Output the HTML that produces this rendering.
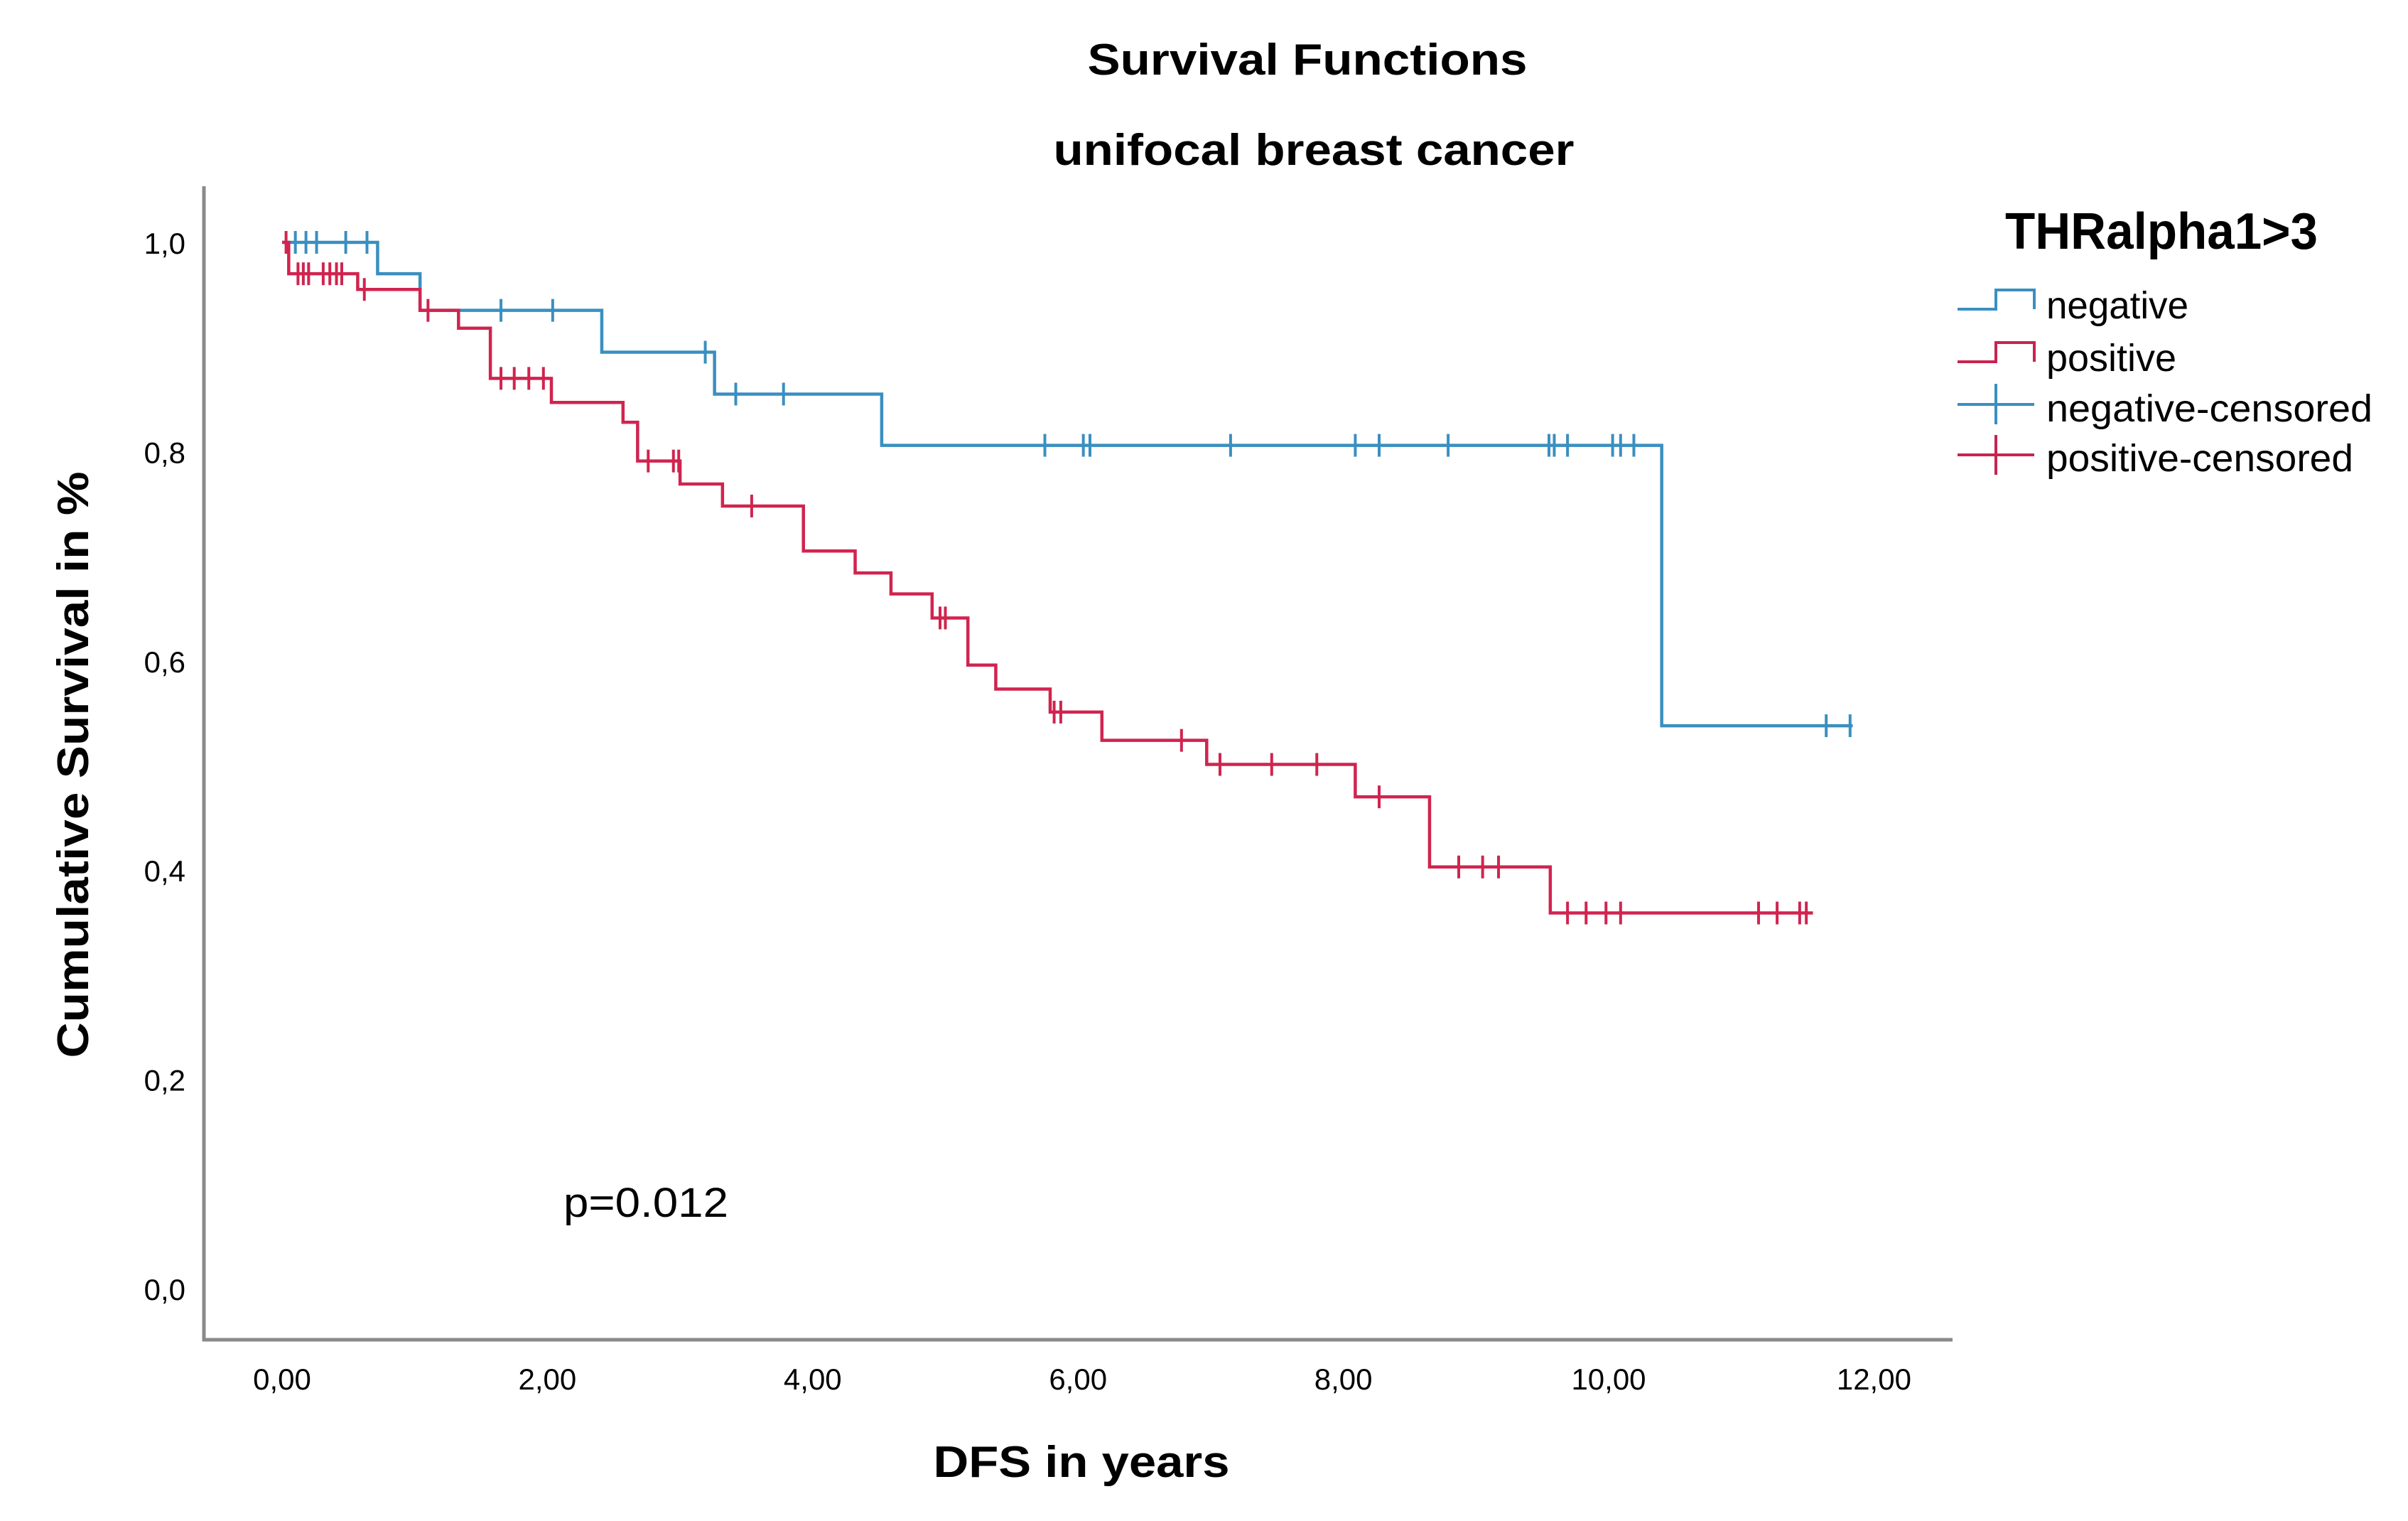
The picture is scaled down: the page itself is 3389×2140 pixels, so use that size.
<!DOCTYPE html>
<html>
<head>
<meta charset="utf-8">
<style>
html,body{margin:0;padding:0;background:#fff;}
svg{display:block;}
text{font-family:"Liberation Sans",sans-serif;fill:#000;}
</style>
</head>
<body>
<svg id="chart" width="3389" height="2140" viewBox="0 0 3389 2140" xmlns="http://www.w3.org/2000/svg">
  <rect x="0" y="0" width="3389" height="2140" fill="#fff"/>
  <text x="1840" y="105" font-size="62" font-weight="bold" text-anchor="middle" textLength="619" lengthAdjust="spacingAndGlyphs">Survival Functions</text>
  <text x="1849" y="232" font-size="62" font-weight="bold" text-anchor="middle" textLength="733" lengthAdjust="spacingAndGlyphs">unifocal breast cancer</text>
  <text transform="translate(124,1076) rotate(-90)" font-size="62" font-weight="bold" text-anchor="middle" textLength="825" lengthAdjust="spacingAndGlyphs">Cumulative Survival in %</text>
  <text x="1522" y="2078" font-size="62" font-weight="bold" text-anchor="middle" textLength="417" lengthAdjust="spacingAndGlyphs">DFS in years</text>
  <text x="793" y="1712" font-size="58" textLength="232" lengthAdjust="spacingAndGlyphs">p=0.012</text>
  <g id="axes"></g>
  <g id="series"></g>
  <g id="legend">
    <text x="2822" y="350" font-size="72" font-weight="bold" textLength="440" lengthAdjust="spacingAndGlyphs">THRalpha1&gt;3</text>
    <path d="M2755 435 H2809 V408 H2863 V435" fill="none" stroke="#3a8fc0" stroke-width="4"/>
    <text x="2880" y="448" font-size="54" textLength="200" lengthAdjust="spacingAndGlyphs">negative</text>
    <path d="M2755 509 H2809 V482 H2863 V509" fill="none" stroke="#c8234f" stroke-width="4"/>
    <text x="2880" y="522" font-size="54" textLength="183" lengthAdjust="spacingAndGlyphs">positive</text>
    <path d="M2755 569 H2863 M2809 540 V597" fill="none" stroke="#3a8fc0" stroke-width="4"/>
    <text x="2880" y="593" font-size="54" textLength="459" lengthAdjust="spacingAndGlyphs">negative-censored</text>
    <path d="M2755 640 H2863 M2809 612 V668" fill="none" stroke="#c8234f" stroke-width="4"/>
    <text x="2880" y="663" font-size="54" textLength="432" lengthAdjust="spacingAndGlyphs">positive-censored</text>
  </g>
</svg>
<script>
// ---- data ----
const xTicks = [0, 2, 4, 6, 8, 10, 12];
const xTickLabels = ["0,00", "2,00", "4,00", "6,00", "8,00", "10,00", "12,00"];
const yTicks = [0, 0.2, 0.4, 0.6, 0.8, 1.0];
const yTickLabels = ["0,0", "0,2", "0,4", "0,6", "0,8", "1,0"];

const negEventTimes = [0.72, 1.04, 2.41, 3.26, 4.52, 10.40];
const negEventSurv  = [0.970, 0.935, 0.895, 0.855, 0.806, 0.538];
const negEndTime = 11.84;
const negCensorTimes = [0.1, 0.18, 0.26, 0.48, 0.64, 1.65, 2.04, 3.19, 3.42, 3.78, 5.75, 6.04, 6.09, 7.15, 8.09, 8.27, 8.79, 9.55, 9.59, 9.69, 10.03, 10.09, 10.19, 11.64, 11.82];

const posEventTimes = [0.05, 0.57, 1.04, 1.33, 1.57, 2.03, 2.57, 2.68, 3.0, 3.32, 3.93, 4.32, 4.59, 4.9, 5.17, 5.38, 5.79, 6.18, 6.97, 8.09, 8.65, 9.56];
const posEventSurv  = [0.970, 0.955, 0.935, 0.918, 0.870, 0.847, 0.828, 0.791, 0.769, 0.748, 0.705, 0.684, 0.664, 0.641, 0.596, 0.573, 0.551, 0.524, 0.501, 0.470, 0.403, 0.359];
const posEndTime = 11.54;
const posCensorTimes = [0.03, 0.12, 0.16, 0.2, 0.31, 0.36, 0.41, 0.45, 0.62, 1.1, 1.65, 1.75, 1.86, 1.97, 2.76, 2.95, 2.99, 3.54, 4.96, 5.0, 5.82, 5.87, 6.78, 7.07, 7.46, 7.8, 8.27, 8.87, 9.05, 9.17, 9.69, 9.83, 9.98, 10.09, 11.13, 11.27, 11.44, 11.49];

// ---- scales ----
function xs(t){ return 397 + t * 186.7; }
function ys(s){ return 1813 - s * 1472; }
const NS = "http://www.w3.org/2000/svg";
function mk(tag, attrs, parent){
  const e = document.createElementNS(NS, tag);
  for (const k in attrs) e.setAttribute(k, attrs[k]);
  parent.appendChild(e);
  return e;
}
const axes = document.getElementById("axes");
const series = document.getElementById("series");

const yAxis = mk("line", {x1:287, y1:262, x2:287, y2:1887, stroke:"#8a8a8a", "stroke-width":5}, axes);


const xAxis = mk("line", {x1:285, y1:1885, x2:2748, y2:1885, stroke:"#8a8a8a", "stroke-width":5}, axes);



xTicks.forEach((v, i) => {
  const t = mk("text", {x: xs(v), y: 1955, "font-size": 42, "text-anchor": "middle"}, axes);
  
  
  t.textContent = xTickLabels[i];
});
yTicks.forEach((v, i) => {
  const t = mk("text", {x: 261, y: ys(v) + 16, "font-size": 42, "text-anchor": "end"}, axes);
  
  
  t.textContent = yTickLabels[i];
});

function survAt(times, surv, t){
  let s = 1;
  for (let i = 0; i < times.length; i++) if (times[i] <= t) s = surv[i];
  return s;
}
function drawCurve(times, surv, endT, censors, color, name){
  let d = "M" + xs(0) + " " + ys(1);
  for (let i = 0; i < times.length; i++){
    d += " H" + xs(times[i]) + " V" + ys(surv[i]);
  }
  d += " H" + xs(endT);
  const p = mk("path", {d: d, fill: "none", stroke: color, "stroke-width": 4.5}, series);
  
  
  censors.forEach(ct => {
    const s = survAt(times, surv, ct);
    const m = mk("line", {x1: xs(ct), y1: ys(s) - 16, x2: xs(ct), y2: ys(s) + 16, stroke: color, "stroke-width": 4}, series);
    
    
  });
}
drawCurve(negEventTimes, negEventSurv, negEndTime, negCensorTimes, "#3a8fc0", "negative");
drawCurve(posEventTimes, posEventSurv, posEndTime, posCensorTimes, "#d0244f", "positive");
</script>
</body>
</html>
